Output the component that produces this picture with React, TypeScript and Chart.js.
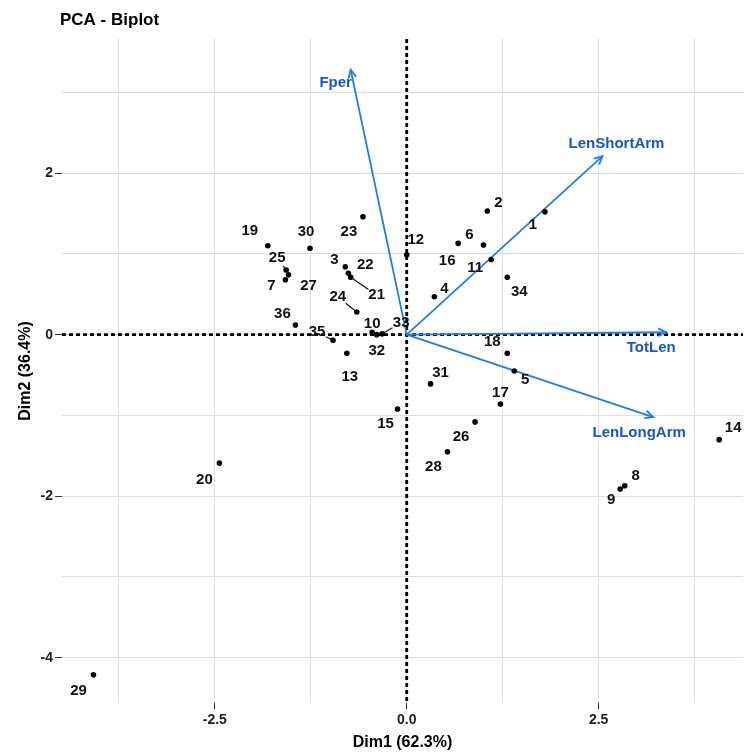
import React, { useEffect, useRef } from 'react';
import { Chart, registerables } from 'chart.js';

Chart.register(...registerables);

// ---- data ----
const pointIds = ['1','2','3','4','5','6','7','8','9','10','11','12','13','14','15','16','17','18','19','20','21','22','23','24','25','26','27','28','29','30','31','32','33','34','35','36'];
const dim1 = [1.80, 1.05, -0.80, 0.36, 1.40, 1.00, -1.58, 2.84, 2.78, -0.45, 1.10, 0.00, -0.78, 4.07, -0.12, 0.67, 1.22, 1.31, -1.81, -2.44, -0.73, -0.76, -0.57, -0.65, -1.57, 0.89, -1.54, 0.53, -4.08, -1.26, 0.31, -0.39, -0.32, 1.31, -0.96, -1.45];
const dim2 = [1.52, 1.53, 0.84, 0.47, -0.45, 1.11, 0.68, -1.87, -1.91, 0.03, 0.93, 0.99, -0.23, -1.30, -0.92, 1.13, -0.86, -0.23, 1.10, -1.59, 0.71, 0.76, 1.46, 0.28, 0.80, -1.08, 0.74, -1.45, -4.21, 1.07, -0.61, 0.00, 0.01, 0.71, -0.07, 0.12];

const varNames = ['Fper', 'LenShortArm', 'TotLen', 'LenLongArm'];
const varDim1 = [-0.73, 2.55, 3.38, 3.21];
const varDim2 = [3.28, 2.21, 0.03, -1.02];

const xTickValues = [-3.75, -2.5, -1.25, 0, 1.25, 2.5, 3.75];
const xTickLabels = ['', '-2.5', '', '0.0', '', '2.5', ''];
const yTickValues = [-4, -3, -2, -1, 0, 1, 2, 3];
const yTickLabels = ['-4', '', '-2', '', '0', '', '2', ''];
const xRange = [-4.49, 4.38];
const yRange = [-4.56, 3.66];

const titleText = 'PCA - Biplot';
const xTitle = 'Dim1 (62.3%)';
const yTitle = 'Dim2 (36.4%)';

// label placement (pixel nudges, like ggrepel), index-aligned with pointIds
const labelNudge: [number, number][] = [
  [-12, 13], [11, -8], [-11, -7], [10, -8], [11, 9], [-14, -10], [-14, 6], [11, -10], [-9, 11], [0, -8],
  [-16, 8], [9, -15], [3, 24], [14, -12], [-12, 15], [-11, 17], [0, -11], [-15, -11], [-18, -15], [-15, 17],
  [26, 18], [17, -8], [-14, 15], [-19, -15], [-9, -12], [-14, 15], [20, 11], [-14, 15], [-15, 16], [-4, -16],
  [10, -11], [0, 16], [19, -11], [12, 15], [-16, -8], [-13, -11],
];
const segmentIds = ['21', '24', '33', '35', '25'];
const varLabelNudge: [number, number][] = [[-15, 13], [14, -12], [-15, 16], [-14, 16]];

const FONT = "'Liberation Sans', Arial, Helvetica, sans-serif";
const ARROW = '#1f7fe0';
const VARTEXT = '#1b55c9';

const biplotPlugin = {
  id: 'biplot',
  beforeDatasetsDraw(chart: any) {
    const { ctx, chartArea: a, scales } = chart;
    const x0 = scales.x.getPixelForValue(0);
    const y0 = scales.y.getPixelForValue(0);
    ctx.save();
    ctx.beginPath();
    ctx.rect(a.left, a.top, a.right - a.left, a.bottom - a.top);
    ctx.clip();
    ctx.strokeStyle = '#000';
    ctx.lineWidth = 2.8;
    ctx.setLineDash([4, 3]);
    ctx.beginPath();
    ctx.moveTo(x0, a.top);
    ctx.lineTo(x0, a.bottom);
    ctx.moveTo(a.left, y0);
    ctx.lineTo(a.right, y0);
    ctx.stroke();
    ctx.restore();
  },
  afterDatasetsDraw(chart: any) {
    const { ctx, scales } = chart;
    const sx = scales.x, sy = scales.y;
    const ox = sx.getPixelForValue(0), oy = sy.getPixelForValue(0);
    ctx.save();
    // arrowheads
    ctx.strokeStyle = ARROW;
    ctx.lineWidth = 1.8;
    ctx.setLineDash([]);
    varNames.forEach((_, i) => {
      const tx = sx.getPixelForValue(varDim1[i]);
      const ty = sy.getPixelForValue(varDim2[i]);
      const ang = Math.atan2(ty - oy, tx - ox);
      const L = 9, sp = 0.45;
      ctx.beginPath();
      ctx.moveTo(tx - L * Math.cos(ang - sp), ty - L * Math.sin(ang - sp));
      ctx.lineTo(tx, ty);
      ctx.lineTo(tx - L * Math.cos(ang + sp), ty - L * Math.sin(ang + sp));
      ctx.stroke();
    });
    // variable labels
    ctx.fillStyle = VARTEXT;
    ctx.font = `bold 15px ${FONT}`;
    ctx.textAlign = 'center';
    ctx.textBaseline = 'middle';
    varNames.forEach((n, i) => {
      const tx = sx.getPixelForValue(varDim1[i]);
      const ty = sy.getPixelForValue(varDim2[i]);
      ctx.fillText(n, tx + varLabelNudge[i][0], ty + varLabelNudge[i][1]);
    });
    // point labels
    ctx.fillStyle = '#111';
    ctx.strokeStyle = '#111';
    ctx.lineWidth = 1.2;
    ctx.font = `bold 15px ${FONT}`;
    pointIds.forEach((id, i) => {
      const px = sx.getPixelForValue(dim1[i]);
      const py = sy.getPixelForValue(dim2[i]);
      const lx = px + labelNudge[i][0];
      const ly = py + labelNudge[i][1];
      if (segmentIds.includes(id)) {
        const dx = lx - px, dy = ly - py;
        const d = Math.hypot(dx, dy);
        const stop = Math.max(0, d - 10);
        ctx.beginPath();
        ctx.moveTo(px, py);
        ctx.lineTo(px + (dx / d) * stop, py + (dy / d) * stop);
        ctx.stroke();
      }
      ctx.fillText(id, lx, ly);
    });
    ctx.restore();
  },
  afterDraw(chart: any) {
    const { ctx } = chart;
    ctx.save();
    ctx.fillStyle = '#000';
    ctx.font = `bold 17px ${FONT}`;
    ctx.textAlign = 'left';
    ctx.textBaseline = 'middle';
    ctx.fillText(titleText, 60, 20);
    ctx.restore();
  },
};

export default function App() {
  const ref = useRef<HTMLCanvasElement | null>(null);
  useEffect(() => {
    if (!ref.current) return;
    const datasets: any[] = [
      {
        label: 'individuals',
        data: pointIds.map((_, i) => ({ x: dim1[i], y: dim2[i] })),
        backgroundColor: '#000',
        borderColor: '#000',
        pointRadius: 2.8,
        pointBorderWidth: 0,
        showLine: false,
        order: 1,
      },
      ...varNames.map((n, i) => ({
        label: n,
        data: [{ x: 0, y: 0 }, { x: varDim1[i], y: varDim2[i] }],
        borderColor: ARROW,
        backgroundColor: ARROW,
        borderWidth: 1.8,
        pointRadius: 0,
        showLine: true,
        order: 2,
      })),
    ];
    const chart = new Chart(ref.current, {
      type: 'scatter',
      data: { datasets },
      plugins: [biplotPlugin],
      options: {
        animation: false,
        responsive: false,
        maintainAspectRatio: false,
        layout: { padding: { top: 39, left: 0, right: 0, bottom: 0 } },
        plugins: { legend: { display: false }, tooltip: { enabled: false }, title: { display: false } },
        scales: {
          x: {
            type: 'linear',
            min: xRange[0],
            max: xRange[1],
            afterBuildTicks: (s: any) => { s.ticks = xTickValues.map((v) => ({ value: v })); },
            afterFit: (s: any) => { s.height = 53; },
            ticks: {
              autoSkip: false,
              maxRotation: 0,
              padding: 3,
              color: '#222',
              font: { family: FONT, size: 14, weight: 'bold' },
              callback: (v: any) => xTickLabels[xTickValues.indexOf(Number(v))] ?? '',
            },
            grid: {
              color: '#dedede',
              lineWidth: 1,
              tickLength: 6,
              tickColor: (c: any) => (xTickLabels[xTickValues.indexOf(c.tick?.value)] ? '#333' : 'rgba(0,0,0,0)'),
            },
            border: { display: false },
            title: { display: true, text: xTitle, color: '#000', font: { family: FONT, size: 16, weight: 'bold' }, padding: { top: 0, bottom: 4 } },
          },
          y: {
            type: 'linear',
            min: yRange[0],
            max: yRange[1],
            afterBuildTicks: (s: any) => { s.ticks = yTickValues.map((v) => ({ value: v })); },
            afterFit: (s: any) => { s.width = 62; },
            ticks: {
              autoSkip: false,
              padding: 2,
              color: '#222',
              font: { family: FONT, size: 14, weight: 'bold' },
              callback: (v: any) => yTickLabels[yTickValues.indexOf(Number(v))] ?? '',
            },
            grid: {
              color: '#dedede',
              lineWidth: 1,
              tickLength: 7,
              tickColor: (c: any) => (yTickLabels[yTickValues.indexOf(c.tick?.value)] ? '#333' : 'rgba(0,0,0,0)'),
            },
            border: { display: false },
            title: { display: true, text: yTitle, color: '#000', font: { family: FONT, size: 16, weight: 'bold' }, padding: { top: 16, bottom: 0 } },
          },
        },
      } as any,
    });
    return () => chart.destroy();
  }, []);
  return (
    <div style={{ position: 'absolute', left: 0, top: 0, width: 747, height: 756, background: '#fff' }}>
      <canvas ref={ref} width={747} height={756} style={{ width: 747, height: 756, display: 'block' }} />
    </div>
  );
}
